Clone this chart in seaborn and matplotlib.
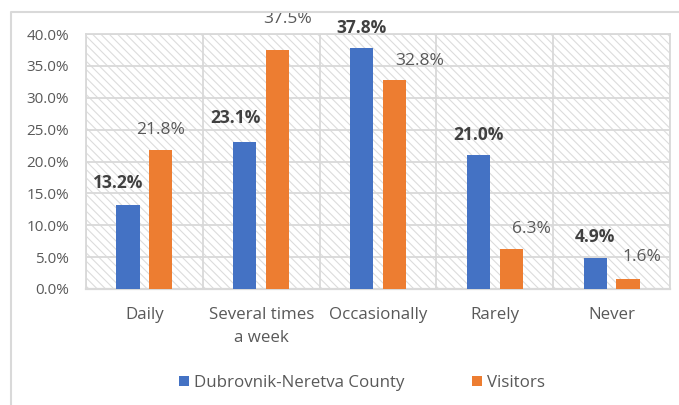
import matplotlib
matplotlib.use("Agg")
import matplotlib.pyplot as plt
from matplotlib.patches import Rectangle, Patch
from matplotlib.lines import Line2D
from matplotlib.ticker import MultipleLocator, FuncFormatter
import seaborn as sns
import pandas as pd

categories = ["Daily", "Several times\na week", "Occasionally", "Rarely", "Never"]
series_names = ["Dubrovnik-Neretva County", "Visitors"]
county = [13.2, 23.1, 37.8, 21.0, 4.9]
visitors = [21.8, 37.5, 32.8, 6.3, 1.6]

# label nudges in pixels (dx from bar centre, dy above bar top)
county_label_nudge = [(-10, 22), (-9, 24), (0, 20), (0, 20), (0, 21)]
visitor_label_nudge = [(0, 20), (10, 31), (25, 19), (20, 20), (14, 22)]

BLUE = "#4472C4"
ORANGE = "#ED7D31"
GRID = "#D9D9D9"
TEXT = "#595959"
DARK = "#404040"

sns.set_theme(style="white")
plt.rcParams["font.family"] = ["Open Sans", "DejaVu Sans"]
plt.rcParams["hatch.linewidth"] = 0.8

df = pd.DataFrame({
    "category": categories * 2,
    "series": [series_names[0]] * len(categories) + [series_names[1]] * len(categories),
    "value": county + visitors,
})

W, H, DPI = 679, 405, 100
fig = plt.figure(figsize=(W / DPI, H / DPI), dpi=DPI)
ax = fig.add_axes([86 / W, 1 - 289 / H, (670 - 86) / W, (289 - 34) / H])

# hatched plot-area background
ax.add_patch(Rectangle((0, 0), 1, 1, transform=ax.transAxes, facecolor="white",
                       edgecolor="#DCDCDC", hatch="\\\\\\\\", linewidth=0, zorder=0))

sns.barplot(data=df, x="category", y="value", hue="series", order=categories,
            hue_order=series_names, palette=[BLUE, ORANGE], width=0.56, gap=0.29,
            saturation=1, ax=ax, legend=False, zorder=3, linewidth=0)

ax.set_xlim(-0.5, len(categories) - 0.5)
ax.set_ylim(0, 40)
ax.yaxis.set_major_locator(MultipleLocator(5))
ax.yaxis.set_major_formatter(FuncFormatter(lambda v, p: f"{v:.1f}%"))
ax.set_xticks(range(len(categories)))
ax.set_xticks([i - 0.5 for i in range(len(categories) + 1)], minor=True)
ax.grid(axis="y", which="major", color=GRID, linewidth=1.3, zorder=1)
ax.grid(axis="x", which="minor", color=GRID, linewidth=1.3, zorder=1)
ax.grid(axis="x", which="major", visible=False)
ax.set_axisbelow(True)
for s in ax.spines.values():
    s.set_color(GRID)
    s.set_linewidth(1.3)
ax.spines["bottom"].set_linewidth(1.6)
ax.tick_params(axis="both", which="both", length=0)
ax.tick_params(axis="y", pad=12, labelsize=11, labelcolor=TEXT)
ax.tick_params(axis="x", pad=13, labelsize=12.2, labelcolor=TEXT)
for t in ax.get_xticklabels():
    t.set_linespacing(1.55)
ax.set_xlabel("")
ax.set_ylabel("")

# value labels
for cont, vals, nudges, bold in [(ax.containers[0], county, county_label_nudge, True),
                                 (ax.containers[1], visitors, visitor_label_nudge, False)]:
    for bar, v, (dx, dy) in zip(cont.patches, vals, nudges):
        xc = bar.get_x() + bar.get_width() / 2
        ax.annotate(f"{v:.1f}%", xy=(xc, bar.get_height()),
                    xytext=(dx * 72 / DPI, dy * 72 / DPI), textcoords="offset points",
                    ha="center", va="center", fontsize=12.5,
                    fontweight="bold" if bold else "normal",
                    color=DARK if bold else TEXT, annotation_clip=False)

# legend
handles = [Patch(facecolor=BLUE, edgecolor="none"), Patch(facecolor=ORANGE, edgecolor="none")]
fig.legend(handles, series_names, loc="center", bbox_to_anchor=(362 / W, 1 - 383 / H),
           ncol=2, frameon=False, handlelength=0.6, handleheight=0.6, handletextpad=0.3,
           columnspacing=4.0, fontsize=12.2, labelcolor=TEXT)

# chart-area border
fig.add_artist(Line2D([11 / W, 11 / W, 1.0], [0.0, 1 - 12 / H, 1 - 12 / H],
                      transform=fig.transFigure, color=GRID, linewidth=1.5))

fig.savefig("out.png", dpi=DPI, facecolor="white")
